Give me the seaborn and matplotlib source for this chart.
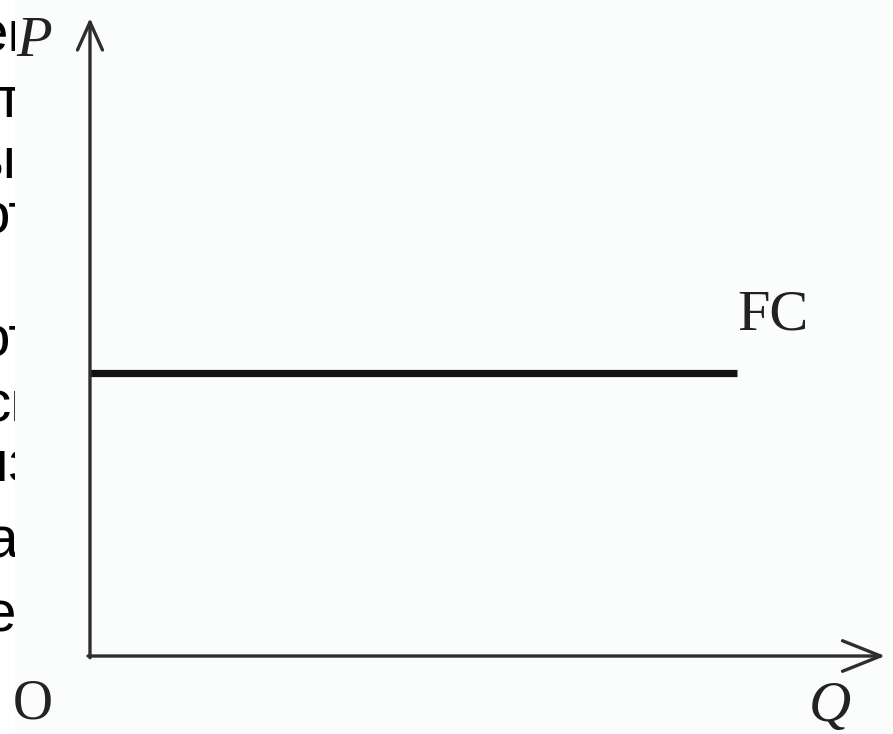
import matplotlib
matplotlib.use("Agg")
import matplotlib.pyplot as plt
from matplotlib import font_manager
import seaborn as sns

# ---- data ----
quantity = [0, 10]          # Q
fixed_cost = [5, 5]         # FC (constant)
curve_label = "FC"
x_label = "Q"
y_label = "P"
origin_label = "O"
x_axis_end = 12.29
y_axis_end = 11.27

# cut-off words of surrounding page text (left strip)
frag_texts = ["ен", "т", "ы", "от", "от", "сн", "из", "а", "е"]

sns.set_theme(style="white")
names = {f.name for f in font_manager.fontManager.ttflist}
sans = "Liberation Sans Narrow" if "Liberation Sans Narrow" in names else "Liberation Sans"
plt.rcParams["font.family"] = ["Liberation Serif", "DejaVu Serif"]

W, H = 893, 734
fig = plt.figure(figsize=(W / 100, H / 100), dpi=100)
fig.patch.set_facecolor("white")

# page-text fragments (drawn under the chart image)
frag_baselines = [51, 117, 178, 234, 356, 421, 482, 557, 632]
frag_left = [-24, -4, -26, -22, -22, -18, -24, -14, -16]
for t, yb, xl in zip(frag_texts, frag_baselines, frag_left):
    fig.text(xl / W, 1 - yb / H, t, family=[sans, "DejaVu Sans"], fontsize=42,
             color="black", ha="left", va="baseline", zorder=-5)

ax = fig.add_axes([15 / W, 0, (W - 15) / W, 1])
ax.set_facecolor("#fbfcfc")

sns.lineplot(x=quantity, y=fixed_cost, ax=ax, color="#111111", linewidth=5.2)
for ln in ax.lines:
    ln.set_solid_capstyle("butt")

ax.set_xlim(-1.159, 12.411)
ax.set_ylim(-1.378, 11.590)
for s in ax.spines.values():
    s.set_visible(False)
ax.set_xticks([])
ax.set_yticks([])
ax.set_xlabel("")
ax.set_ylabel("")

axis_color = "#2e2e2e"
ax.annotate("", xy=(x_axis_end, 0), xytext=(-0.03, 0),
            arrowprops=dict(arrowstyle="->,head_length=0.55,head_width=0.22",
                            lw=2.4, color=axis_color, shrinkA=0, shrinkB=0,
                            mutation_scale=50))
ax.annotate("", xy=(0, y_axis_end), xytext=(0, -0.03),
            arrowprops=dict(arrowstyle="->,head_length=0.40,head_width=0.18",
                            lw=2.4, color=axis_color, shrinkA=0, shrinkB=0,
                            mutation_scale=50))

ax.text(-0.86, 10.85, y_label, fontstyle="italic", fontsize=42, color="#222222",
        ha="center", va="center")
ax.text(-0.88, -0.86, origin_label, fontsize=40, color="#222222",
        ha="center", va="center")
ax.text(11.44, -0.90, x_label, fontstyle="italic", fontsize=42, color="#222222",
        ha="center", va="center")
ax.text(10.56, 6.02, curve_label, fontsize=42, color="#222222",
        ha="center", va="center")

fig.savefig("out.png", dpi=100, facecolor="white")
